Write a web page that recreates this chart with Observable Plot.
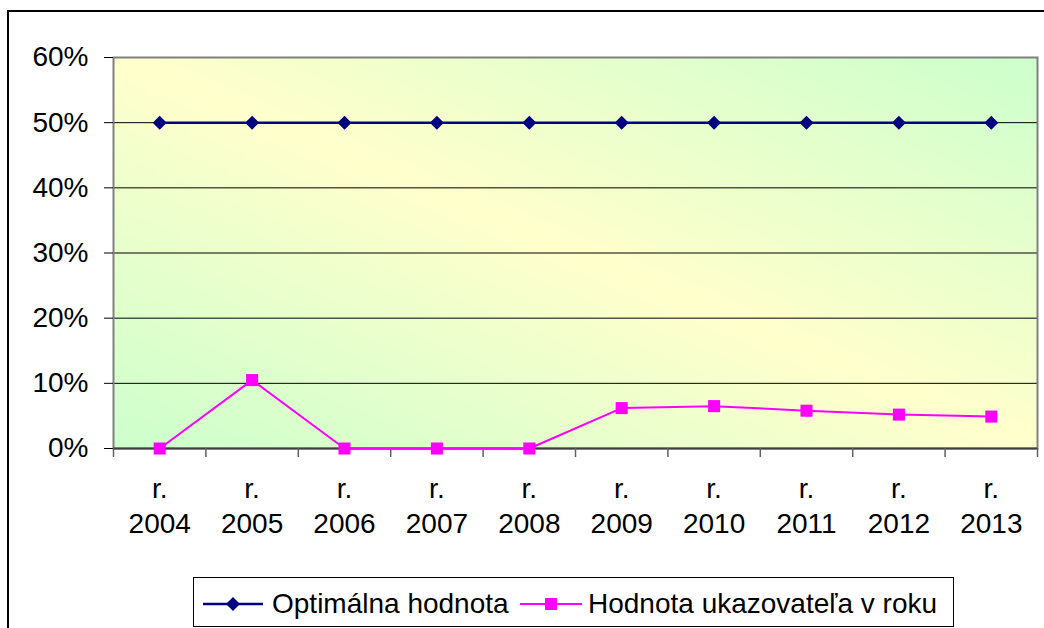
<!DOCTYPE html>
<html><head><meta charset="utf-8">
<script src="https://cdn.jsdelivr.net/npm/d3@7"></script>
<script src="https://cdn.jsdelivr.net/npm/@observablehq/plot@0.6"></script>
<style>
html,body{margin:0;padding:0;background:#fff;overflow:hidden;width:1044px;height:628px}
#wrap{position:relative;width:1044px;height:628px;font-family:"Liberation Sans",Arial,sans-serif}
#border{position:absolute;left:7px;top:10px;width:1100px;height:700px;border-left:2px solid #000;border-top:2px solid #000}
#chart{position:absolute;left:0;top:0}
#legend{position:absolute;left:193px;top:577px}
</style></head><body>
<div id="wrap"><div id="border"></div><div id="chart"></div><div id="legend"></div></div>
<script>
// ---- data ----
const years = ["2004","2005","2006","2007","2008","2009","2010","2011","2012","2013"];
const optimal = [0.5,0.5,0.5,0.5,0.5,0.5,0.5,0.5,0.5,0.5];
const actual = [0, 0.105, 0, 0, 0, 0.062, 0.065, 0.058, 0.052, 0.049];
const yTicks = [0, 0.1, 0.2, 0.3, 0.4, 0.5, 0.6];
const seriesNames = ["Optimálna hodnota", "Hodnota ukazovateľa v roku"];
const seriesColors = ["#000080", "#FF00FF"];

const FONT = '"Liberation Sans", Arial, sans-serif';
const FS = 28;
const idx = years.map((d, i) => i);
const bounds = d3.range(years.length + 1).map(i => i - 0.5);

const plot = Plot.plot({
  width: 1044, height: 628,
  marginLeft: 113, marginRight: 7, marginTop: 57, marginBottom: 180,
  style: {fontFamily: FONT, fontSize: FS + "px", background: "transparent", color: "#000"},
  x: {domain: [-0.5, years.length - 0.5], axis: null},
  y: {domain: [0, 0.6], axis: null},
  marks: [
    Plot.frame({fill: "url(#plotbg)", stroke: null}),
    Plot.ruleY(yTicks.filter(t => t > 0 && t < 0.6), {stroke: "#000", strokeWidth: 1}),
    Plot.frame({stroke: "#808080", strokeWidth: 2}),
    Plot.ruleY([0], {stroke: "#404040", strokeWidth: 2}),
    Plot.axisY({ticks: yTicks, tickFormat: d3.format(".0%"), tickSize: 9, tickPadding: 16, fontSize: FS, stroke: "#000"}),
    Plot.axisX({ticks: bounds, tickFormat: () => "", tickSize: 9, stroke: "#606060", strokeWidth: 1.5}),
    Plot.text(years, {x: (d, i) => i, y: () => 0, text: d => "r.\n" + d, lineAnchor: "top", dy: 25, fontSize: FS, lineHeight: 1.25, fill: "#000"}),
    Plot.line(idx, {x: i => i, y: i => optimal[i], stroke: seriesColors[0], strokeWidth: 2.5}),
    Plot.dot(idx, {x: i => i, y: i => optimal[i], symbol: "diamond2", r: 6.3, fill: seriesColors[0], stroke: null}),
    Plot.line(idx, {x: i => i, y: i => actual[i], stroke: seriesColors[1], strokeWidth: 2}),
    Plot.dot(idx, {x: i => i, y: i => actual[i], symbol: "square", r: 6.8, fill: seriesColors[1], stroke: null})
  ]
});

const svg = d3.select(plot);
const grad = svg.insert("defs", ":first-child").append("linearGradient")
  .attr("id", "plotbg").attr("x1", 0).attr("y1", 1).attr("x2", 1).attr("y2", 0);
grad.append("stop").attr("offset", "0%").attr("stop-color", "#CCFFCC");
grad.append("stop").attr("offset", "50%").attr("stop-color", "#FFFFCC");
grad.append("stop").attr("offset", "100%").attr("stop-color", "#CCFFCC");
document.getElementById("chart").appendChild(plot);

// ---- legend ----
const lw = 761, lh = 50;
const leg = d3.select("#legend").append("svg").attr("width", lw).attr("height", lh)
  .style("font-family", FONT);
leg.append("rect").attr("x", 0.5).attr("y", 0.5).attr("width", lw - 1).attr("height", lh - 1)
  .attr("fill", "#fff").attr("stroke", "#000").attr("stroke-width", 1);
const items = [
  {x0: 10, x1: 70, tx: 79, sym: d3.symbolDiamond2, area: 125},
  {x0: 327, x1: 389, tx: 395, sym: d3.symbolSquare, area: 144}
];
items.forEach((it, k) => {
  const g = leg.append("g");
  g.append("line").attr("x1", it.x0).attr("x2", it.x1).attr("y1", 27).attr("y2", 27)
    .attr("stroke", seriesColors[k]).attr("stroke-width", k === 0 ? 2.5 : 2);
  g.append("path").attr("d", d3.symbol(it.sym, it.area)())
    .attr("transform", `translate(${(it.x0 + it.x1) / 2},27)`).attr("fill", seriesColors[k]);
  g.append("text").attr("x", it.tx).attr("y", 36).attr("font-size", FS).attr("fill", "#000").text(seriesNames[k]);
});
</script>
</body></html>
